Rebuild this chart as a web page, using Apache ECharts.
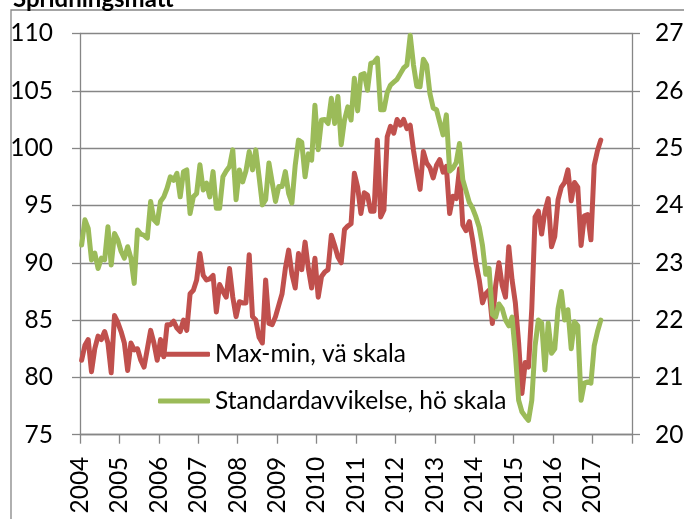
<!DOCTYPE html>
<html>
<head>
<meta charset="utf-8">
<script src="https://cdn.jsdelivr.net/npm/echarts@6/dist/echarts.min.js"></script>
<style>
html,body{margin:0;padding:0;background:#fff;}
#chart{width:684px;height:519px;}
</style>
</head>
<body>
<div id="chart"></div>
<script>
// Monthly data, Jan 2004 .. Mar 2017
const startYear = 2004;
const yearLabels = ['2004','2005','2006','2007','2008','2009','2010','2011','2012','2013','2014','2015','2016','2017'];
const leftTicks = [75, 80, 85, 90, 95, 100, 105, 110];
const rightTicks = [20, 21, 22, 23, 24, 25, 26, 27];
const seriesNames = ['Max-min, vä skala', 'Standardavvikelse, hö skala'];
const titleText = 'Spridningsmått';

const maxMin = [
  81.5, 82.8, 83.3, 80.5, 82.5, 83.6, 83.3, 84.0, 83.0, 80.4, 85.4, 84.8,   // 2004
  84.0, 83.0, 80.6, 83.0, 82.4, 82.5, 81.5, 80.9, 82.5, 84.1, 83.0, 81.5,   // 2005
  83.3, 81.8, 84.6, 84.6, 84.9, 84.3, 84.0, 85.0, 84.1, 87.3, 87.6, 88.5,   // 2006
  90.8, 88.9, 88.5, 88.6, 88.9, 85.7, 88.1, 87.5, 87.0, 89.5, 87.0, 85.3,   // 2007
  86.6, 86.5, 86.5, 90.7, 85.3, 85.0, 83.5, 83.0, 88.5, 84.7, 84.6, 85.3,   // 2008
  86.3, 87.3, 89.5, 91.1, 89.0, 87.8, 90.8, 89.4, 91.8, 89.5, 87.8, 90.4,   // 2009
  87.0, 88.8, 89.2, 89.4, 92.4, 91.5, 90.5, 90.0, 92.9, 93.2, 93.4, 97.8,   // 2010
  96.6, 94.3, 96.1, 95.9, 94.5, 94.5, 100.7, 94.0, 94.6, 101.0, 101.9, 101.3, // 2011
  102.5, 102.0, 102.5, 101.7, 102.0, 99.8, 98.0, 96.4, 99.7, 98.7, 98.3, 97.4, // 2012
  98.5, 99.0, 97.9, 98.4, 94.3, 95.8, 95.6, 98.2, 93.3, 92.8, 93.6, 92.0,   // 2013
  90.0, 88.5, 86.5, 87.3, 87.6, 84.7, 88.0, 90.0, 88.0, 87.0, 91.4, 88.5,   // 2014
  86.5, 83.0, 78.6, 81.3, 80.9, 86.0, 94.0, 94.5, 92.5, 94.5, 95.6, 91.4,   // 2015
  92.3, 95.5, 96.6, 97.0, 98.1, 95.4, 97.0, 96.6, 91.5, 94.1, 94.2, 92.0,   // 2016
  98.5, 99.8, 100.7                                                         // 2017
];

const stdDev = [
  23.31, 23.75, 23.60, 23.05, 23.17, 22.90, 23.08, 23.05, 23.63, 22.96, 23.51, 23.40, // 2004
  23.20, 23.08, 23.28, 23.08, 22.64, 23.57, 23.50, 23.48, 23.43, 24.07, 23.75, 23.69, // 2005
  24.07, 24.15, 24.30, 24.50, 24.44, 24.56, 24.15, 24.59, 24.62, 23.86, 24.15, 24.21, // 2006
  24.71, 24.27, 24.39, 24.15, 24.59, 23.95, 23.95, 24.50, 24.60, 24.68, 24.97, 24.10, // 2007
  24.62, 24.41, 24.60, 24.94, 24.62, 24.97, 24.50, 24.01, 24.10, 24.74, 24.40, 24.07, // 2008
  24.33, 24.33, 24.59, 24.21, 24.04, 24.70, 25.14, 25.10, 24.50, 24.90, 24.79, 25.75, // 2009
  24.97, 25.49, 25.50, 25.43, 25.87, 25.43, 25.90, 25.06, 25.49, 25.72, 25.49, 26.22, // 2010
  25.65, 26.28, 26.30, 26.01, 26.48, 26.50, 26.57, 25.67, 25.67, 25.97, 26.10, 26.15, // 2011
  26.20, 26.30, 26.40, 26.45, 26.97, 26.45, 26.08, 26.07, 26.55, 26.45, 25.95, 25.70, // 2012
  25.67, 25.45, 25.23, 25.58, 24.60, 24.65, 24.75, 25.08, 24.45, 24.25, 24.05, 23.95, // 2013
  23.80, 23.62, 23.30, 22.80, 22.90, 22.10, 22.05, 22.28, 22.20, 22.00, 21.90, 22.05, // 2014
  21.42, 20.60, 20.40, 20.32, 20.25, 20.60, 21.55, 22.00, 21.95, 21.13, 21.95, 21.42, // 2015
  21.50, 22.20, 22.50, 22.00, 22.18, 21.50, 21.97, 21.90, 20.60, 20.90, 20.92, 20.90, // 2016
  21.55, 21.80, 22.00                                                                 // 2017
];

// month index -> position on the time axis (middle of each month)
function toPairs(values) {
  return values.map(function (v, i) { return [startYear + (i + 0.5) / 12, v]; });
}

const FONT = 'Lato';
const AX = '#868686';

const chart = echarts.init(document.getElementById('chart'), null, {renderer: 'canvas'});
chart.setOption({
  animation: false,
  backgroundColor: '#ffffff',
  grid: {left: 80, right: 52, top: 33.5, bottom: 84.3, outerBoundsMode: 'none'},
  graphic: [
    {type: 'rect', silent: true, shape: {x: 11, y: 10, width: 720, height: 560},
     style: {fill: 'none', stroke: AX, lineWidth: 1.3}},
    {type: 'text', silent: true, left: 13, top: -13,
     style: {text: titleText, font: 'bold 24px ' + FONT, fill: '#000'}}
  ],
  legend: {
    orient: 'vertical', left: 158, top: 340.3, padding: 0,
    itemWidth: 52, itemHeight: 5, itemGap: 18.7, icon: 'roundRect',
    selectedMode: false,
    textStyle: {fontFamily: FONT, fontSize: 24.5, color: '#000', lineHeight: 28},
    data: seriesNames
  },
  xAxis: {
    type: 'value', min: startYear, max: startYear + yearLabels.length, interval: 1,
    axisLine: {show: true, lineStyle: {color: AX, width: 1.3}},
    axisTick: {show: true, length: 9, lineStyle: {color: AX, width: 1.3}},
    splitLine: {show: false},
    axisLabel: {
      rotate: 90, margin: 22, fontFamily: FONT, fontSize: 24.5, color: '#000',
      padding: [16, 0, 0, 0],
      formatter: function (v) { const i = Math.round(v - startYear); return yearLabels[i] || ''; }
    }
  },
  yAxis: [
    {
      type: 'value', position: 'left', min: leftTicks[0], max: leftTicks[leftTicks.length - 1], interval: 5,
      axisLine: {show: true, lineStyle: {color: AX, width: 1.3}},
      axisTick: {show: true, length: 8, lineStyle: {color: AX, width: 1.3}},
      splitLine: {show: true, lineStyle: {color: AX, width: 1.3}},
      axisLabel: {margin: 27, fontFamily: FONT, fontSize: 24.5, color: '#000'}
    },
    {
      type: 'value', position: 'right', min: rightTicks[0], max: rightTicks[rightTicks.length - 1], interval: 1,
      axisLine: {show: true, lineStyle: {color: AX, width: 1.3}},
      axisTick: {show: true, length: 8, lineStyle: {color: AX, width: 1.3}},
      splitLine: {show: false},
      axisLabel: {margin: 23, fontFamily: FONT, fontSize: 24.5, color: '#000'}
    }
  ],
  series: [
    {
      name: seriesNames[0], type: 'line', yAxisIndex: 0, showSymbol: false, symbol: 'none',
      color: '#C0504D',
      lineStyle: {width: 5, color: '#C0504D', cap: 'round', join: 'round'},
      data: toPairs(maxMin)
    },
    {
      name: seriesNames[1], type: 'line', yAxisIndex: 1, showSymbol: false, symbol: 'none',
      color: '#9BBB59',
      lineStyle: {width: 5, color: '#9BBB59', cap: 'round', join: 'round'},
      data: toPairs(stdDev)
    }
  ]
});
</script>
</body>
</html>
